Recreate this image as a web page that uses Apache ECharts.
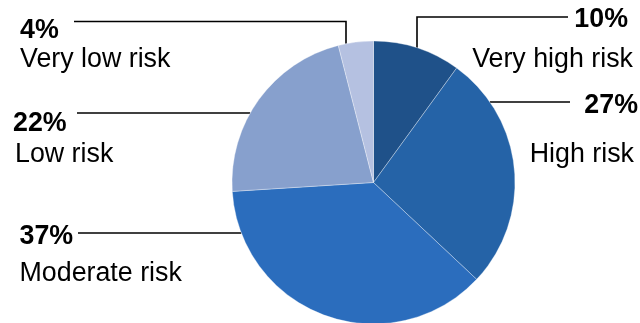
<!DOCTYPE html>
<html>
<head>
<meta charset="utf-8">
<script src="https://cdn.jsdelivr.net/npm/echarts@6/dist/echarts.min.js"></script>
<style>
  html, body { margin: 0; padding: 0; background: #fff; }
  #chart { width: 640px; height: 323px; }
</style>
</head>
<body>
<div id="chart"></div>
<script>
// Risk distribution (share of total, %)
const categories = ['Very high risk', 'High risk', 'Moderate risk', 'Low risk', 'Very low risk'];
const shares = [10, 27, 37, 22, 4];
const sliceColors = ['#1f5189', '#2563a7', '#2b6dbd', '#87a0cd', '#b5c1e1'];

// Pie geometry (px)
const CX = 373.5, CY = 182.5, R = 141.5;
const FONT = '"Liberation Sans", Arial, Helvetica, sans-serif';
const FONT_SIZE = 26.8;

// Point on the pie rim at a given height (side: +1 right, -1 left)
function rimAtY(y, side) {
  const dy = y - CY;
  return [CX + side * Math.sqrt(R * R - dy * dy), y];
}
// Point on the upper pie rim at a given x
function rimAtX(x) {
  const dx = x - CX;
  return [x, CY - Math.sqrt(R * R - dx * dx)];
}

// Label placement and leader-line routing for each slice
const labelPlacement = [
  { align: 'right', x: 633, top: 6.5,   pctH: 26, nameH: 53.4, pctPad: [0, 5, 0, 0], namePad: 0,
    line: () => { const a = rimAtX(417); return [a, [417, 17], [568, 17]]; } },
  { align: 'right', x: 638, top: 93,    pctH: 26, nameH: 71,   pctPad: 0, namePad: [0, 4, 0, 0],
    line: () => { const a = rimAtY(102, 1); return [a, [530, 102], [570, 102]]; } },
  { align: 'left',  x: 19.5, top: 223.2, pctH: 26, nameH: 49.6, pctPad: 0, namePad: 0,
    line: () => { const a = rimAtY(233, -1); return [a, [150, 233], [78, 233]]; } },
  { align: 'left',  x: 13,  top: 110.5, pctH: 26, nameH: 36.6, pctPad: 0, namePad: [0, 0, 0, 2],
    line: () => { const a = rimAtY(113, -1); return [a, [150, 113], [77, 113]]; } },
  { align: 'left',  x: 20,  top: 18,    pctH: 26, nameH: 31,   pctPad: 0, namePad: 0,
    line: () => { const a = rimAtX(346); return [a, [346, 21.5], [74, 21.5]]; } }
];

const pieData = categories.map((name, i) => {
  const p = labelPlacement[i];
  return {
    name: name,
    value: shares[i],
    itemStyle: { color: sliceColors[i] },
    label: {
      rich: {
        p: { fontFamily: FONT, fontSize: FONT_SIZE, fontWeight: 'bold', color: '#000',
             lineHeight: p.pctH, align: p.align, padding: p.pctPad },
        n: { fontFamily: FONT, fontSize: FONT_SIZE, color: '#000',
             lineHeight: p.nameH, align: p.align, padding: p.namePad }
      }
    }
  };
});

const chart = echarts.init(document.getElementById('chart'), null, { renderer: 'canvas' });
chart.setOption({
  animation: false,
  backgroundColor: '#ffffff',
  series: [{
    type: 'pie',
    center: [CX, CY],
    radius: [0, R],
    startAngle: 90,
    clockwise: true,
    avoidLabelOverlap: false,
    silent: true,
    itemStyle: { borderColor: 'rgba(255,255,255,0.55)', borderWidth: 0.6 },
    label: {
      show: true,
      position: 'outside',
      formatter: (d) => '{p|' + d.value + '%}\n{n|' + d.name + '}'
    },
    labelLine: {
      show: true,
      smooth: false,
      lineStyle: { color: '#000', width: 1.6 }
    },
    labelLayout: (params) => {
      const p = labelPlacement[params.dataIndex];
      return {
        x: p.x,
        y: p.top,
        align: p.align,
        verticalAlign: 'top',
        labelLinePoints: p.line()
      };
    },
    emphasis: { disabled: true },
    data: pieData
  }]
});
</script>
</body>
</html>
